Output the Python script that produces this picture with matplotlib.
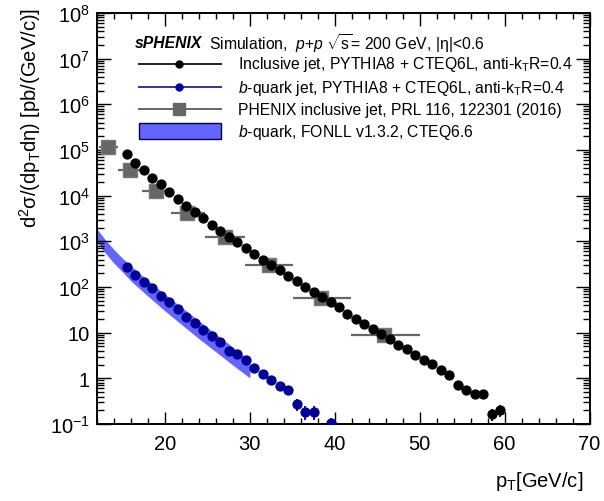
import numpy as np
import matplotlib
matplotlib.use("Agg")
import matplotlib.pyplot as plt
from matplotlib.ticker import FixedLocator, MultipleLocator, LogLocator, NullFormatter
from matplotlib.patches import Rectangle
from matplotlib.lines import Line2D

plt.rcParams['font.family'] = ['Liberation Sans', 'DejaVu Sans']
plt.rcParams['mathtext.fontset'] = 'custom'
plt.rcParams['mathtext.rm'] = 'Liberation Sans'
plt.rcParams['mathtext.it'] = 'Liberation Sans:italic'
plt.rcParams['mathtext.bf'] = 'Liberation Sans:bold'

# ---------------- data ----------------
incl_pt = [15.5, 16.5, 17.5, 18.5, 19.5, 20.5, 21.5, 22.5, 23.5, 24.5, 25.5, 26.5,
           27.5, 28.5, 29.5, 30.5, 31.5, 32.5, 33.5, 34.5, 35.5, 36.5, 37.5, 38.5,
           39.5, 40.5, 41.5, 42.5, 43.5, 44.5, 45.5, 46.5, 47.5, 48.5, 49.5, 50.5,
           51.5, 52.5, 53.5, 54.5, 55.5, 56.5, 57.5, 58.5, 59.5]
incl_val = [8.05e4, 5.3e4, 3.6e4, 2.4e4, 1.77e4, 1.2e4, 8.3e3, 5.85e3, 4.3e3, 3.2e3,
            2.3e3, 1.69e3, 1.26e3, 953, 705, 529, 396, 303, 232, 174, 133, 102, 79,
            60, 48, 36.5, 25.6, 20.0, 15.3, 12.0, 9.5, 7.4, 5.5, 4.4, 3.25, 2.56, 2.1,
            1.5, 1.18, 0.73, 0.565, 0.46, 0.45, 0.168, 0.203]
incl_err = [0]*43 + [0.05, 0.06]

bjet_pt = [15.5, 16.5, 17.5, 18.5, 19.5, 20.5, 21.5, 22.5, 23.5, 24.5, 25.5, 26.5,
           27.5, 28.5, 29.5, 30.5, 31.5, 32.5, 33.5, 34.5, 35.5, 36.5, 37.5, 39.5]
bjet_val = [270, 186, 129, 94, 63.5, 46, 32.5, 22, 16, 11.6, 8.45, 6.15, 3.97, 3.36,
            2.52, 1.69, 1.25, 0.905, 0.67, 0.556, 0.27, 0.183, 0.183, 0.105]
bjet_err = [0]*20 + [0.08, 0.06, 0.06, 0.03]

phenix_pt = [13.3, 15.84, 18.98, 22.6, 27.06, 32.2, 38.4, 45.76]
phenix_lo = [12.2, 14.5, 17.3, 20.7, 24.7, 29.4, 35.1, 41.9]
phenix_hi = [14.5, 17.3, 20.7, 24.7, 29.4, 35.1, 41.9, 50.0]
phenix_val = [1.15e5, 3.7e4, 1.26e4, 4.2e3, 1.22e3, 303, 58, 8.9]

fonll_pt = [12, 13, 14, 15, 16, 18, 20, 22, 24, 26, 28, 30]
fonll_hi = [1860, 1070, 660, 427, 288, 138, 69, 35.5, 18.2, 9.3, 4.8, 2.45]
fonll_lo = [977, 550, 331, 214, 135, 63, 30, 14.8, 7.4, 3.8, 1.95, 1.02]

ytick_vals = [1e-1, 1, 10, 1e2, 1e3, 1e4, 1e5, 1e6, 1e7, 1e8]
ytick_labels = [r'$10^{-1}$', '1', '10', r'$10^{2}$', r'$10^{3}$', r'$10^{4}$',
                r'$10^{5}$', r'$10^{6}$', r'$10^{7}$', r'$10^{8}$']
xtick_vals = [20, 30, 40, 50, 60, 70]

# ---------------- figure ----------------
W, H = 604, 502
fig = plt.figure(figsize=(W/100, H/100), dpi=100)
L, R, T, B = 97, 589.5, 14, 425
ax = fig.add_axes([L/W, (H-B)/H, (R-L)/W, (B-T)/H])

blue_band = '#6464ff'
ax.fill_between(fonll_pt, fonll_lo, fonll_hi, color=blue_band, lw=0, zorder=1)

ax.errorbar(phenix_pt, phenix_val,
            xerr=[np.array(phenix_pt)-np.array(phenix_lo), np.array(phenix_hi)-np.array(phenix_pt)],
            yerr=np.array(phenix_val)*0.1,
            fmt='s', color='#666666', mec='#777777', ms=9.5, elinewidth=1.6, capsize=0, zorder=2)
ax.errorbar(incl_pt, incl_val, yerr=incl_err, fmt='o', color='black', ms=6.4,
            elinewidth=1.3, capsize=0, zorder=3)
ax.errorbar(bjet_pt, bjet_val, yerr=bjet_err, fmt='o', color='#000099', ms=6.4,
            elinewidth=1.3, capsize=0, zorder=3)

ax.set_yscale('log')
ax.set_xlim(12, 70)
ax.set_ylim(1e-1, 1e8)
ax.xaxis.set_major_locator(FixedLocator(xtick_vals))
ax.xaxis.set_minor_locator(MultipleLocator(2))
ax.yaxis.set_major_locator(FixedLocator(ytick_vals))
ax.set_yticklabels(ytick_labels)
ax.yaxis.set_minor_locator(LogLocator(base=10, subs=np.arange(2, 10)))
ax.yaxis.set_minor_formatter(NullFormatter())
ax.tick_params(which='both', direction='in', top=True, right=True, labelsize=14.5, width=1.0)
ax.tick_params(axis='x', which='major', length=9, pad=7)
ax.tick_params(axis='x', which='minor', length=4.5)
ax.tick_params(axis='y', which='major', length=10, pad=5)
ax.tick_params(axis='y', which='minor', length=5)
for s in ax.spines.values():
    s.set_linewidth(1.4)

fig.text(30/W, 1-8/H, r'd$^{2}$σ/(dp$_{\rm T}$dη) [pb/(GeV/c)]',
         rotation=90, ha='center', va='top', fontsize=14.5)
fig.text(583/W, 1-482/H, r'p$_{\rm T}$[GeV/c]', ha='right', va='center', fontsize=14.5)

# ---------------- legend ----------------
def fx(px):
    return (px - L) / (R - L)
def fy(py):
    return (B - py) / (B - T)

fs = 11.3
ax.text(fx(135), fy(44), 'sPHENIX', fontsize=fs, fontweight='bold', style='italic',
        transform=ax.transAxes, va='center', ha='left')
ax.text(fx(209), fy(44), r'Simulation,  $p$+$p$ $\sqrt{\rm s}$= 200 GeV, |η|<0.6',
        fontsize=fs, transform=ax.transAxes, va='center', ha='left')

entries = [
    (65, '#222222', 'o', 'black', 5, r'Inclusive jet, PYTHIA8 + CTEQ6L, anti-k$_{\rm T}$R=0.4'),
    (88, '#3333aa', 'o', '#000099', 5, r'$b$-quark jet, PYTHIA8 + CTEQ6L, anti-k$_{\rm T}$R=0.4'),
    (110, '#666666', 's', '#666666', 9, 'PHENIX inclusive jet, PRL 116, 122301 (2016)'),
]
for py, lc, mk, mc, ms, label in entries:
    ax.add_line(Line2D([fx(139), fx(221)], [fy(py), fy(py)], color=lc, lw=1.4,
                       transform=ax.transAxes))
    ax.add_line(Line2D([fx(179)], [fy(py)], marker=mk, color=mc, ms=ms, lw=0,
                       transform=ax.transAxes))
    ax.text(fx(238), fy(py), label, fontsize=fs, transform=ax.transAxes,
            va='center', ha='left')

ax.add_patch(Rectangle((fx(139), fy(140)), fx(221)-fx(139), fy(124)-fy(140),
                       facecolor=blue_band, edgecolor='#000044', lw=1.0,
                       transform=ax.transAxes))
ax.text(fx(238), fy(132), r'$b$-quark, FONLL v1.3.2, CTEQ6.6', fontsize=fs,
        transform=ax.transAxes, va='center', ha='left')

fig.savefig('out.png', dpi=100)
